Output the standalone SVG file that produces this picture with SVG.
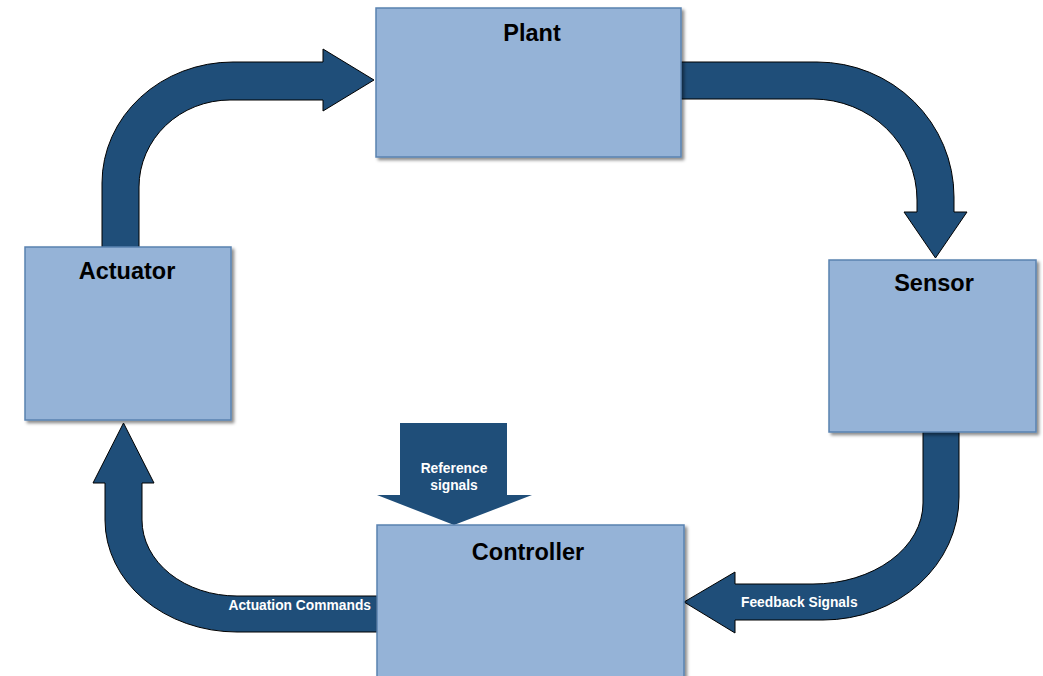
<svg xmlns="http://www.w3.org/2000/svg" width="1043" height="676" viewBox="0 0 1043 676">
  <defs>
    <filter id="shadow" x="-10%" y="-10%" width="125%" height="125%">
      <feDropShadow dx="2.5" dy="2.5" stdDeviation="1.5" flood-color="#000" flood-opacity="0.45"/>
    </filter>
    <style>
      .box { fill: #95b3d7; stroke: #5a82b0; stroke-width: 1.5; filter: url(#shadow); }
      .title { font-family: "Liberation Sans", Arial, sans-serif; font-weight: bold; font-size: 23.5px; fill: #000; text-anchor: middle; }
      .flow { fill: #1f4e79; stroke: #000; stroke-width: 1; stroke-linejoin: miter; }
      .flow-label { font-family: "Liberation Sans", Arial, sans-serif; font-weight: bold; font-size: 13.8px; fill: #fff; }
    </style>
  </defs>
  <rect width="1043" height="676" fill="#fff"/>

  <!-- curved block arrows forming the loop -->
  <g id="connectors">
    <!-- Actuator -> Plant -->
    <path class="flow" d="M 102,248 L 102,183 A 131 121 0 0 1 233,62 L 323,62 L 323,49 L 374,80 L 323,111 L 323,100 L 230,100 A 91 87 0 0 0 139,187 L 139,248 Z"/>
    <!-- Plant -> Sensor -->
    <path class="flow" d="M 681,62 L 817,62 A 137 135 0 0 1 954,197 L 954,212 L 967,212 L 935.5,258 L 904,212 L 917,212 L 917,200 A 104 101 0 0 0 813,99 L 681,99 Z"/>
    <!-- Sensor -> Controller -->
    <path class="flow" d="M 923,432 L 923,503 A 110 81 0 0 1 813,584 L 735,584 L 735,572 L 684,602 L 735,633 L 735,620 L 823,620 A 136 123 0 0 0 959,497 L 959,432 Z"/>
    <text class="flow-label" x="741" y="607">Feedback Signals</text>
    <!-- Controller -> Actuator -->
    <path class="flow" d="M 377,596 L 237,596 A 95 76 0 0 1 142,520 L 142,483 L 154,483 L 123.5,423 L 93,483 L 105,483 L 105,520 A 132 112 0 0 0 237,632 L 377,632 Z"/>
    <text class="flow-label" x="371" y="610" text-anchor="end">Actuation Commands</text>
    <!-- Reference input -->
    <path d="M 400,423 L 507,423 L 507,495 L 532,495 L 454,525 L 377,495 L 400,495 Z" fill="#1f4e79"/>
    <text class="flow-label" x="454" y="473" text-anchor="middle">Reference</text>
    <text class="flow-label" x="454" y="490" text-anchor="middle">signals</text>
  </g>

  <g id="plant">
    <rect class="box" x="376" y="8" width="305" height="149"/>
    <text class="title" x="532" y="41">Plant</text>
  </g>
  <g id="sensor">
    <rect class="box" x="829" y="260" width="207" height="172"/>
    <text class="title" x="934" y="291">Sensor</text>
  </g>
  <g id="controller">
    <rect class="box" x="377" y="525" width="307" height="155"/>
    <text class="title" x="528" y="560">Controller</text>
  </g>
  <g id="actuator">
    <rect class="box" x="25" y="247" width="206" height="173"/>
    <text class="title" x="127" y="279">Actuator</text>
  </g>
</svg>
